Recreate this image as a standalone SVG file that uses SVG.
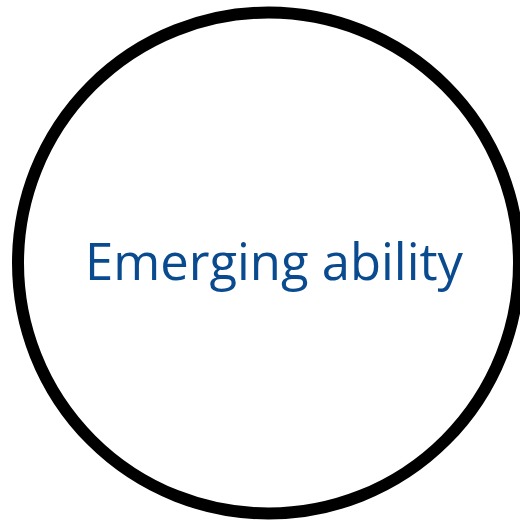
<svg xmlns="http://www.w3.org/2000/svg" width="520" height="520" viewBox="0 0 520 520">
  <style>
    .ring { fill: #ffffff; stroke: #000000; stroke-width: 12; }
    .label { font-family: "Open Sans", "Noto Sans", "Liberation Sans", sans-serif; font-size: 52px; fill: #0a4a8e; }
  </style>
  <rect width="520" height="520" fill="#ffffff"/>
  <g id="node-emerging-ability">
    <circle class="ring" cx="268.5" cy="263" r="250.5"/>
    <text class="label" x="274" y="280" text-anchor="middle" textLength="378" lengthAdjust="spacingAndGlyphs">Emerging ability</text>
  </g>
  <g id="connectors"/>
</svg>
